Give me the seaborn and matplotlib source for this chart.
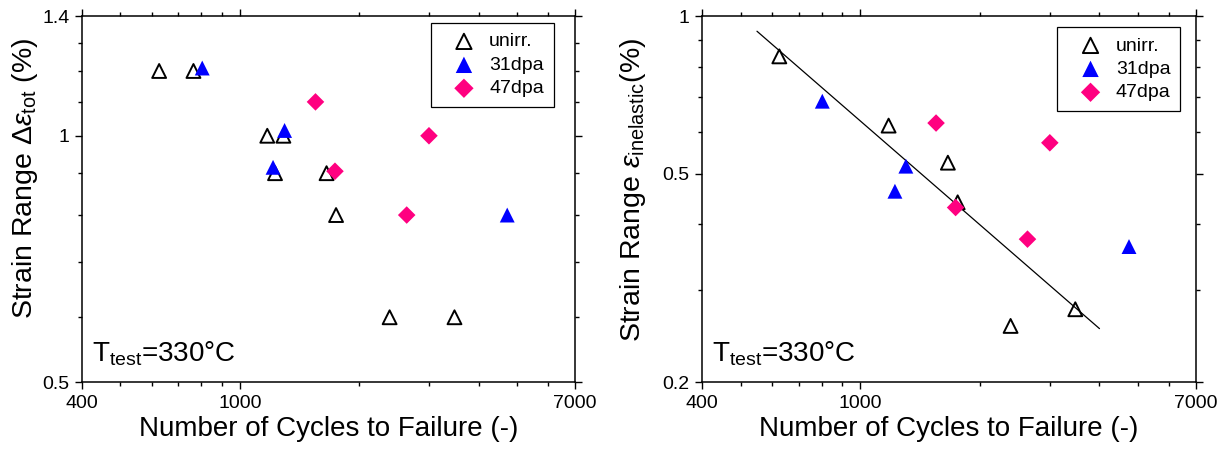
import numpy as np
import pandas as pd
import matplotlib.pyplot as plt
import matplotlib.ticker as mticker
import seaborn as sns

# left panel: total strain range
tot_unirr_n = [626, 764, 1173, 1288, 1227, 1655, 1749, 2387, 3479]
tot_unirr_e = [1.2, 1.2, 1.0, 1.0, 0.9, 0.9, 0.8, 0.6, 0.6]
tot_31_n = [804, 1297, 1213, 4726]
tot_31_e = [1.21, 1.015, 0.915, 0.8]
tot_47_n = [1552, 1738, 3000, 2636]
tot_47_e = [1.1, 0.905, 1.0, 0.8]

# right panel: inelastic strain range
inel_unirr_n = [626, 1179, 1662, 1759, 2390, 3477]
inel_unirr_e = [0.838, 0.618, 0.525, 0.441, 0.256, 0.2755]
inel_31_n = [803, 1303, 1223, 4746]
inel_31_e = [0.688, 0.517, 0.463, 0.363]
inel_47_n = [1552, 1738, 2636, 3000]
inel_47_e = [0.625, 0.431, 0.375, 0.573]

# fitted line (end points)
fit_n = [550, 4000]
fit_e = [0.936, 0.253]

x_major = [400, 1000, 7000]
x_minor = [500, 600, 700, 800, 900, 2000, 3000, 4000, 5000, 6000]

sns.set_style('ticks')
plt.rcParams['font.family'] = ['Liberation Sans', 'DejaVu Sans']
plt.rcParams['mathtext.fontset'] = 'custom'
plt.rcParams['mathtext.rm'] = 'Liberation Sans'
plt.rcParams['mathtext.it'] = 'Liberation Sans:italic'
plt.rcParams['text.color'] = 'black'
plt.rcParams['axes.labelcolor'] = 'black'
plt.rcParams['xtick.color'] = 'black'
plt.rcParams['ytick.color'] = 'black'

pink = '#ff0080'

fig = plt.figure(figsize=(12.26, 4.5), dpi=100)
ax1 = fig.add_axes([0.0669, 0.151, 0.402, 0.813])
ax2 = fig.add_axes([0.5726, 0.151, 0.403, 0.813])


def draw(ax, un, ue, bn, be, pn, pe):
    sns.scatterplot(x=un, y=ue, ax=ax, marker='^', s=100, facecolor='none',
                    edgecolor='black', linewidth=1.4, label='unirr.', zorder=3)
    sns.scatterplot(x=bn, y=be, ax=ax, marker='^', s=115, color='#0000ff',
                    edgecolor='none', linewidth=0, label='31dpa', zorder=4)
    sns.scatterplot(x=pn, y=pe, ax=ax, marker='D', s=80, color=pink,
                    edgecolor='none', linewidth=0, label='47dpa', zorder=4)


draw(ax1, tot_unirr_n, tot_unirr_e, tot_31_n, tot_31_e, tot_47_n, tot_47_e)
draw(ax2, inel_unirr_n, inel_unirr_e, inel_31_n, inel_31_e, inel_47_n, inel_47_e)
sns.lineplot(x=fit_n, y=fit_e, ax=ax2, color='black', linewidth=0.9, zorder=2)

for ax, ylim, ymaj, ymin, ylab, legx, legy, labxy in [
    (ax1, (0.5, 1.4), [0.5, 1, 1.4], [0.6, 0.7, 0.8, 0.9, 1.1, 1.2, 1.3],
     r'Strain Range $\Delta\varepsilon_{\mathrm{tot}}$ (%)', 0.957, 0.981, (-0.085, 0.557)),
    (ax2, (0.2, 1.0), [0.2, 0.5, 1], [0.3, 0.4, 0.6, 0.7, 0.8, 0.9],
     r'Strain Range $\varepsilon_{\mathrm{inelastic}}$(%)', 0.968, 0.970, (-0.11, 0.525)),
]:
    ax.set_xscale('log')
    ax.set_yscale('log')
    ax.set_xlim(400, 7000)
    ax.set_ylim(*ylim)
    ax.xaxis.set_major_locator(mticker.FixedLocator(x_major))
    ax.xaxis.set_minor_locator(mticker.FixedLocator(x_minor))
    ax.xaxis.set_major_formatter(mticker.FixedFormatter([str(v) for v in x_major]))
    ax.xaxis.set_minor_formatter(mticker.NullFormatter())
    ax.yaxis.set_major_locator(mticker.FixedLocator(ymaj))
    ax.yaxis.set_minor_locator(mticker.FixedLocator(ymin))
    ax.yaxis.set_major_formatter(mticker.FixedFormatter([f'{v:g}' for v in ymaj]))
    ax.yaxis.set_minor_formatter(mticker.NullFormatter())
    ax.tick_params(which='both', direction='out', top=True, right=True,
                   labelsize=14, width=1, color='black', pad=4)
    ax.tick_params(which='major', length=5)
    ax.tick_params(which='minor', length=3)
    for sp in ax.spines.values():
        sp.set_visible(True)
        sp.set_linewidth(1.1)
        sp.set_color('black')
    ax.set_xlabel('Number of Cycles to Failure (-)', fontsize=20, labelpad=3)
    ax.set_ylabel(ylab, fontsize=20.5)
    ax.yaxis.set_label_coords(*labxy)
    ax.text(0.02, 0.055, r'T$_{\mathrm{test}}$=330°C', transform=ax.transAxes,
            fontsize=20, ha='left', va='baseline')
    leg = ax.legend(loc='upper right', bbox_to_anchor=(legx, legy), fontsize=14,
                    frameon=True, fancybox=False, edgecolor='black',
                    borderaxespad=0, handletextpad=0.1, labelspacing=0.3,
                    borderpad=0.5, handlelength=2.4, markerscale=1.1)
    leg.get_frame().set_linewidth(0.9)
    leg.get_frame().set_alpha(1)

fig.savefig('out.png', dpi=100)
